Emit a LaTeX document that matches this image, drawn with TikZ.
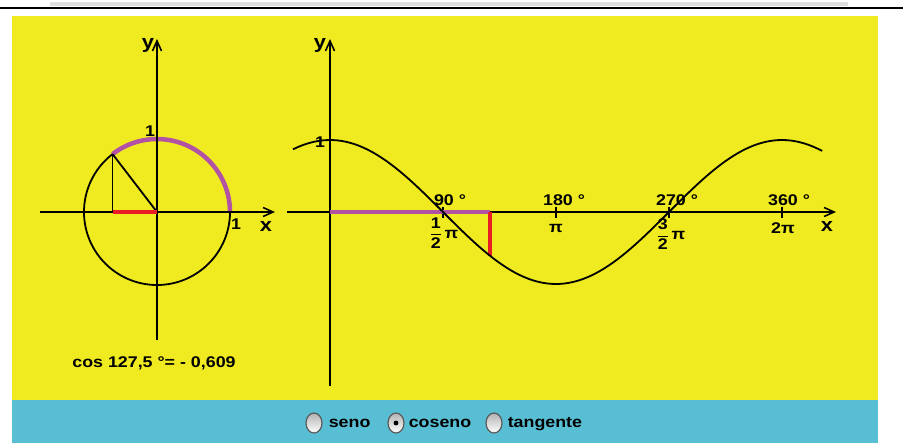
\documentclass[tikz,border=0pt]{standalone}
\usepackage{fontspec}
\setmainfont{Liberation Sans}[FakeStretch=1.15]
\usepackage{xcolor}
\usetikzlibrary{arrows.meta,positioning,shapes.geometric}

\definecolor{paneyellow}{RGB}{240,235,32}
\definecolor{paneblue}{RGB}{88,190,212}
\definecolor{arcpurple}{RGB}{178,82,165}
\definecolor{cosred}{RGB}{232,30,36}

\newcommand{\fracpi}[1]{$\displaystyle\frac{\mbox{#1}}{\mbox{2}}$\,π}

\begin{document}
\begin{tikzpicture}[
  x=1pt, y=-1pt,
  axis/.style={line width=1.8pt, -{Straight Barb[length=10pt,width=9pt,line width=1.6pt]}},
  curve/.style={line width=1.8pt},
  tick/.style={line width=1.5pt},
  lbl/.style={font=\fontsize{15.5}{16}\selectfont\bfseries, inner sep=0pt},
  axlbl/.style={font=\fontsize{19}{20}\selectfont\bfseries, inner sep=0pt},
  opt/.style={lbl, text height=11pt, text depth=3pt},
  radio/.style={ellipse, draw=black!65, line width=1.2pt, top color=gray!60, bottom color=white,
    minimum width=16pt, minimum height=20pt, inner sep=0pt}
]
\useasboundingbox (0,0) rectangle (903,445);

% frame
\fill[gray!25] (50,2) rectangle (848,6);
\draw[line width=1.6pt] (0,8) -- (903,8);
\fill[paneyellow] (12,16) rectangle (878,400);
\fill[paneblue] (12,400) rectangle (878,443);

% unit circle
\coordinate (O) at (157,212);
\coordinate (P) at ({157+73*cos(127.5)},{212-73*sin(127.5)});
\coordinate (Pf) at (P |- O);
\draw[curve] (O) circle[radius=73];
\draw[arcpurple, line width=4.5pt] plot[domain=0:127.5, samples=40] ({157+73*cos(\x)},{212-73*sin(\x)});
\draw[axis] (40,212) -- (275,212);
\draw[axis] (157,340) -- (157,39);
\draw[curve] (P) -- (Pf);
\draw[curve] (P) -- (O);
\draw[cosred, line width=4.5pt] (Pf) -- (O);

\node[axlbl] (ly1) at (148,45) {y};
\node[axlbl] (lx1) at (266,226) {x};
\node[lbl] (one1) at (150,131) {1};
\node[lbl] (one2) at (236,224) {1};
\node[lbl] (val) at (154,363) {cos 127,5 °= - 0,609};

% cosine graph
\coordinate (O2) at (330,212);
\coordinate (Q) at (490,212);
\coordinate (R) at (490,{212+72*0.609});
\draw[axis] (287,212) -- (836,212);
\draw[axis] (330,386) -- (330,39);
\foreach \t in {1,2,3,4}
  \draw[tick] ({330+113*\t},207) -- ({330+113*\t},218);
\draw[arcpurple, line width=4.5pt] (O2) -- (Q);
\draw[cosred, line width=3.5pt] (Q) -- (R);
\draw[curve] plot[domain=-29.5:392, samples=120] ({330+1.25556*\x},{212-72*cos(\x)});

\node[axlbl] (ly2) at (320,45) {y};
\node[axlbl] (lx2) at (827,226) {x};
\node[lbl] (one3) at (320,142) {1};
\node[lbl] (d90) at (450,200) {90 °};
\node[lbl] (d180) at (564,200) {180 °};
\node[lbl] (d270) at (677,200) {270 °};
\node[lbl] (d360) at (789,200) {360 °};
\node[lbl] (r90) at (444,233) {\fracpi{1}};
\node[lbl] (r180) at (556,228) {π};
\node[lbl] (r270) at (671,234) {\fracpi{3}};
\node[lbl] (r360) at (783,228) {2π};

% options
\node[radio] (rb1) at (314,423) {};
\node[opt, right=6pt of rb1] (seno) {seno};
\node[radio] (rb2) at (396,423) {};
\fill (rb2.center) circle[radius=2.4];
\node[opt, right=4pt of rb2] (coseno) {coseno};
\node[radio] (rb3) at (494,423) {};
\node[opt, right=5pt of rb3] (tangente) {tangente};
\end{tikzpicture}
\end{document}
